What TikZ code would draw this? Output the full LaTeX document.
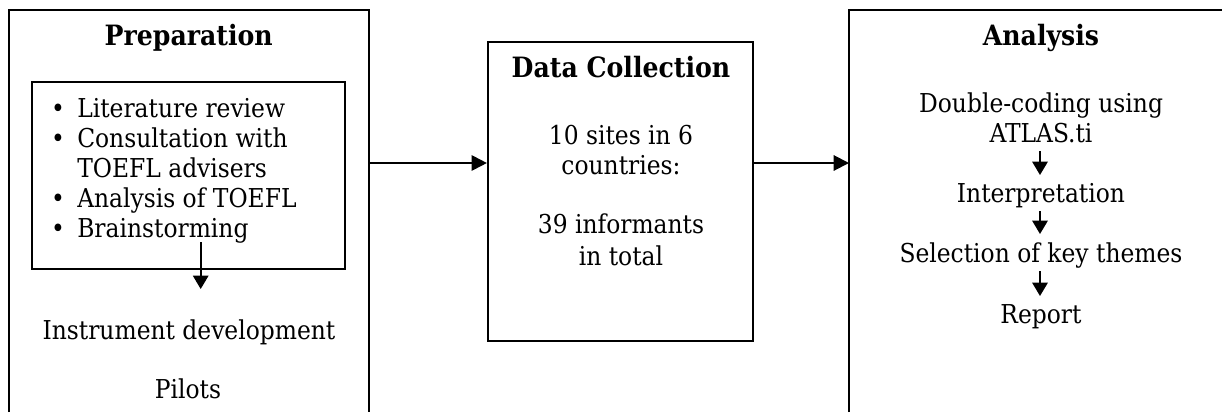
\documentclass[tikz,border=0pt]{standalone}
\usepackage{fontspec}
\setmainfont{DejaVu Serif Condensed}
\usetikzlibrary{arrows.meta,calc}
\begin{document}
\begin{tikzpicture}[x=0.75pt,y=-0.75pt,
  txt/.style={inner sep=0pt, font=\fontsize{19.5}{22.5}\selectfont, anchor=base},
  ttl/.style={txt, font=\fontsize{21}{22.5}\selectfont\bfseries},
  frame/.style={line width=1.6pt},
  bigarrow/.style={line width=1.5pt, -{Triangle[length=11.5pt,width=11.5pt]}},
  smallarrow/.style={line width=1.5pt, -{Triangle[length=10pt,width=11.5pt]}}]
\useasboundingbox (0,0) rectangle (1222,412);
% Preparation frame (open at bottom)
\draw[frame] (9,412) -- (9,10) -- (369,10) -- (369,412);
% Analysis frame (open at right and bottom)
\draw[frame] (849,412) -- (849,10) -- (1222,10);
% Data collection box
\node (dcbox) [draw, frame, inner sep=0pt, minimum width=198.75pt, minimum height=224.25pt] at (620.5,191.5) {};
% inner box
\node (inner) [draw, frame, inner sep=0pt, minimum width=234.75pt, minimum height=140.25pt] at (188.5,175.5) {};

% Preparation texts
\node[ttl] (prep) at (188.7,45) {Preparation};
\node[txt] (b1) at (58,117) {\textbullet};
\node[txt] (b2) at (58,147) {\textbullet};
\node[txt] (b3) at (58,207) {\textbullet};
\node[txt] (b4) at (58,237) {\textbullet};
\node[txt,anchor=base west] (t1) at (77,117) {Literature review};
\node[txt,anchor=base west] (t2) at (77,147) {Consultation with};
\node[txt,anchor=base west] (t3) at (77,177) {TOEFL advisers};
\node[txt,anchor=base west] (t4) at (77,207) {Analysis of TOEFL};
\node[txt,anchor=base west] (t5) at (77,237) {Brainstorming};
\node[txt] (instr) at (189,339) {Instrument development};
\node[txt] (pilots) at (188,398) {Pilots};
\coordinate (ia) at (200.7,242);
\coordinate (ib) at (200.7,289);
\draw[smallarrow] (ia) -- (ib);

% Data collection texts
\node[ttl] (dc) at (621,77) {Data Collection};
\node[txt] (d1) at (621,144) {10 sites in 6};
\node[txt] (d2) at (621,174) {countries:};
\node[txt] (d3) at (621,233) {39 informants};
\node[txt] (d4) at (621,265) {in total};

% Analysis texts
\node[ttl] (ana) at (1041,45) {Analysis};
\node[txt] (a1) at (1041,112) {Double-coding using};
\node[txt] (a2) at (1041,142) {ATLAS.ti};
\node[txt] (a3) at (1041,202) {Interpretation};
\node[txt] (a4) at (1041,262) {Selection of key themes};
\node[txt] (a5) at (1041,323) {Report};
\draw[smallarrow] ($(a2.base)+(-1,9)$) -- ($(a3.base)+(-1,-27)$);
\draw[smallarrow] ($(a3.base)+(-1,9)$) -- ($(a4.base)+(-1,-28)$);
\draw[smallarrow] ($(a4.base)+(-1,9)$) -- ($(a5.base)+(-1,-27)$);

% main connectors
\coordinate (prepR) at (369,163);
\coordinate (anaL) at (849,163);
\draw[bigarrow] (prepR) -- (prepR -| dcbox.west);
\draw[bigarrow] (dcbox.east |- prepR) -- (anaL);
\end{tikzpicture}
\end{document}
